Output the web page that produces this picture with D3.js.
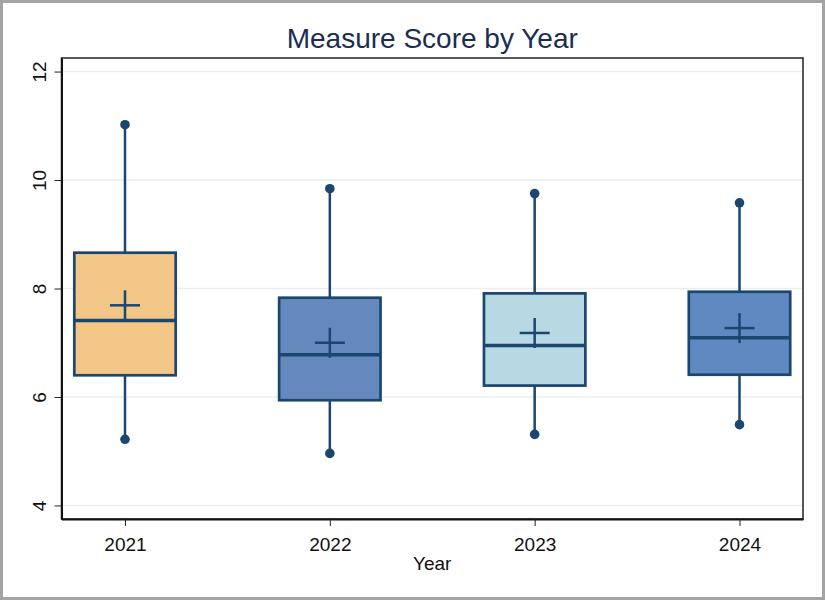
<html>
<head>
<script src="https://d3js.org/d3.v7.min.js"></script>
<style>
  body { margin: 0; background: #fff; }
  text { font-family: "Liberation Sans", Arial, sans-serif; }
</style>
</head>
<body>
<svg id="chart" width="825" height="601"></svg>
<script>
// data
const years   = ["2021", "2022", "2023", "2024"];
const whiskLo = [5.22, 4.96, 5.31, 5.49];
const q1      = [6.40, 5.94, 6.21, 6.41];
const median  = [7.41, 6.78, 6.95, 7.09];
const q3      = [8.66, 7.83, 7.91, 7.94];
const whiskHi = [11.02, 9.84, 9.75, 9.58];
const means   = [7.69, 7.00, 7.18, 7.27];
const fills   = ["#f2c687", "#6589bd", "#b8d9e3", "#5f89c0"];
const yTicks  = [4, 6, 8, 10, 12];

const svg = d3.select("#chart");
const margin = { top: 58, right: 22, bottom: 82, left: 61.5 };
const width = 825, height = 601;
const innerW = width - margin.left - margin.right;
const innerH = height - margin.top - margin.bottom;
const dark = "#1b4670";

// outer frame
svg.append("rect").attr("x", 1.5).attr("y", 1.5)
   .attr("width", width - 3).attr("height", height - 4)
   .attr("fill", "#fff").attr("stroke", "#a3a3a3").attr("stroke-width", 3);

const g = svg.append("g").attr("transform", `translate(${margin.left},${margin.top})`);

const x = d3.scalePoint().domain(years).range([0, innerW]).padding(0.31);
const y = d3.scaleLinear().domain([3.75, 12.25]).range([innerH, 0]);
const boxW = x.step() * 0.495;

// grid
g.selectAll("line.grid").data(yTicks).join("line")
  .attr("class", "grid")
  .attr("x1", 0).attr("x2", innerW)
  .attr("y1", d => y(d)).attr("y2", d => y(d))
  .attr("stroke", "#e9eff1").attr("stroke-width", 1.5);

const boxes = years.map((yr, i) => ({
  yr, lo: whiskLo[i], q1: q1[i], med: median[i], q3: q3[i], hi: whiskHi[i], mean: means[i], fill: fills[i]
}));

const b = g.selectAll("g.box").data(boxes).join("g")
  .attr("class", "box")
  .attr("transform", d => `translate(${x(d.yr)},0)`);

// whiskers
b.append("line").attr("x1", 0).attr("x2", 0)
  .attr("y1", d => y(d.q3)).attr("y2", d => y(d.hi))
  .attr("stroke", dark).attr("stroke-width", 2.5);
b.append("line").attr("x1", 0).attr("x2", 0)
  .attr("y1", d => y(d.q1)).attr("y2", d => y(d.lo))
  .attr("stroke", dark).attr("stroke-width", 2.5);
b.append("circle").attr("cx", 0).attr("cy", d => y(d.hi)).attr("r", 4.8).attr("fill", dark);
b.append("circle").attr("cx", 0).attr("cy", d => y(d.lo)).attr("r", 4.8).attr("fill", dark);

// box
b.append("rect")
  .attr("x", -boxW / 2).attr("width", boxW)
  .attr("y", d => y(d.q3)).attr("height", d => y(d.q1) - y(d.q3))
  .attr("fill", d => d.fill).attr("stroke", dark).attr("stroke-width", 2.7);

// median
b.append("line").attr("x1", -boxW / 2).attr("x2", boxW / 2)
  .attr("y1", d => y(d.med)).attr("y2", d => y(d.med))
  .attr("stroke", dark).attr("stroke-width", 3.5);

// mean cross
b.append("line").attr("x1", -15).attr("x2", 15)
  .attr("y1", d => y(d.mean)).attr("y2", d => y(d.mean))
  .attr("stroke", dark).attr("stroke-width", 2.5);
b.append("line").attr("x1", 0).attr("x2", 0)
  .attr("y1", d => y(d.mean) - 15).attr("y2", d => y(d.mean) + 15)
  .attr("stroke", dark).attr("stroke-width", 2.5);

// plot frame
g.append("rect").attr("width", innerW).attr("height", innerH)
  .attr("fill", "none").attr("stroke", "#222").attr("stroke-width", 1.5);

// axes
const yAxis = g.append("g").call(d3.axisLeft(y).tickValues(yTicks).tickSize(7).tickSizeOuter(0).tickPadding(8));
yAxis.select(".domain").attr("stroke", "#111").attr("stroke-width", 2);
yAxis.selectAll(".tick line").attr("stroke", "#222");
yAxis.selectAll(".tick text")
  .attr("transform", "rotate(-90)")
  .attr("x", 0).attr("y", -16)
  .attr("text-anchor", "middle").attr("dy", 0)
  .attr("font-size", 19).attr("fill", "#111");

const xAxis = g.append("g").attr("transform", `translate(0,${innerH})`)
  .call(d3.axisBottom(x).tickSize(7).tickSizeOuter(0).tickPadding(12));
xAxis.select(".domain").attr("stroke", "#111").attr("stroke-width", 2);
xAxis.selectAll(".tick line").attr("stroke", "#222");
xAxis.selectAll(".tick text").attr("font-size", 19).attr("fill", "#111");

// labels
svg.append("text").attr("x", margin.left + innerW / 2).attr("y", 48)
  .attr("text-anchor", "middle").attr("font-size", 28).attr("fill", "#1c2d52")
  .text("Measure Score by Year");
svg.append("text").attr("x", margin.left + innerW / 2).attr("y", 570)
  .attr("text-anchor", "middle").attr("font-size", 19).attr("fill", "#111")
  .text("Year");
</script>
</body>
</html>
